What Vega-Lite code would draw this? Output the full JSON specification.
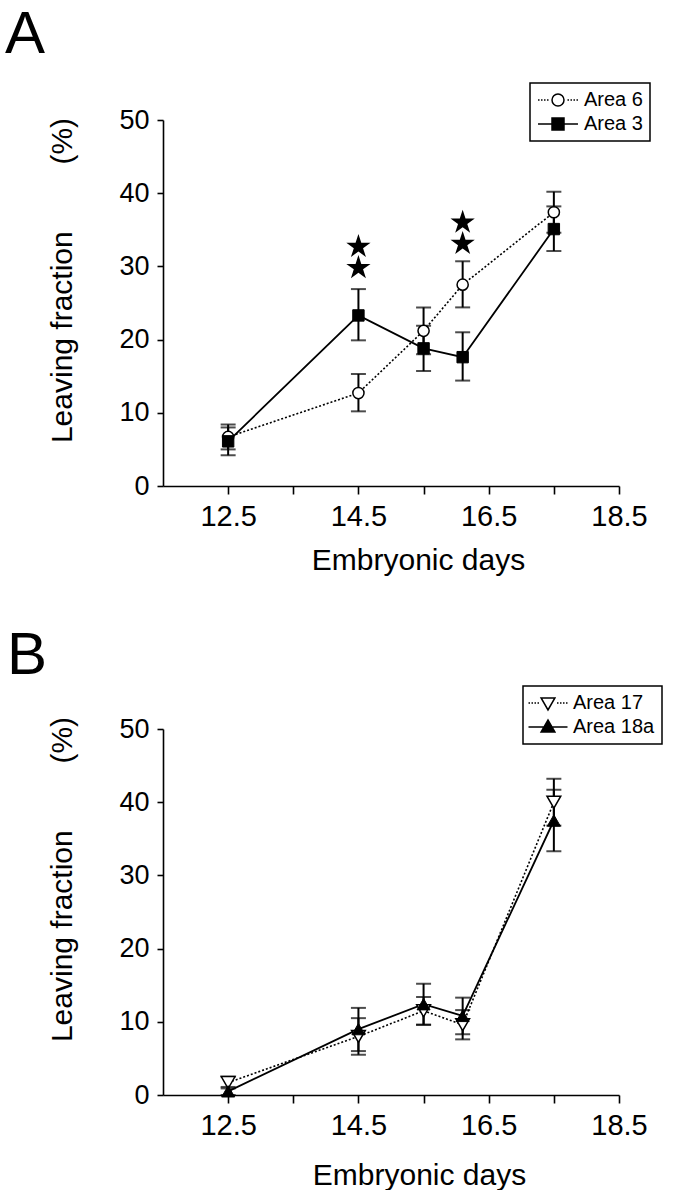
{
  "$schema": "https://vega.github.io/schema/vega-lite/v6.json",
  "background": "white",
  "padding": {"left": 5, "top": 5, "right": 0, "bottom": 0},
  "spacing": 50,
  "resolve": {"scale": {"shape": "independent", "fill": "independent", "stroke": "independent"}, "legend": {"shape": "independent", "fill": "independent", "stroke": "independent"}},
  "config": {
    "font": "Liberation Sans",
    "view": {"stroke": null},
    "axis": {"grid": false, "domainColor": "black", "domainWidth": 1.6, "tickColor": "black", "tickWidth": 1.6, "labelColor": "black", "titleColor": "black", "titleFontWeight": "normal", "labelFont": "Liberation Sans", "titleFont": "Liberation Sans", "labelFlush": false, "labelBound": false, "labelOverlap": false},
    "legend": {"strokeWidth": 1.5},
    "title": {"font": "Liberation Sans", "fontWeight": "normal", "color": "black"}
  },
  "datasets": {
    "A": [
      {"day": 12.5, "series": "Area 6", "mean": 6.7, "lo": 5.0, "hi": 8.4},
      {"day": 14.5, "series": "Area 6", "mean": 12.7, "lo": 10.2, "hi": 15.3},
      {"day": 15.5, "series": "Area 6", "mean": 21.2, "lo": 18.0, "hi": 24.4},
      {"day": 16.1, "series": "Area 6", "mean": 27.5, "lo": 24.4, "hi": 30.7},
      {"day": 17.5, "series": "Area 6", "mean": 37.4, "lo": 34.6, "hi": 40.2},
      {"day": 12.5, "series": "Area 3", "mean": 6.1, "lo": 4.2, "hi": 8.0},
      {"day": 14.5, "series": "Area 3", "mean": 23.3, "lo": 19.9, "hi": 26.9},
      {"day": 15.5, "series": "Area 3", "mean": 18.8, "lo": 15.7, "hi": 21.9},
      {"day": 16.1, "series": "Area 3", "mean": 17.6, "lo": 14.4, "hi": 21.0},
      {"day": 17.5, "series": "Area 3", "mean": 35.1, "lo": 32.1, "hi": 38.2}
    ],
    "starsA": [
      {"day": 14.5, "y": 32.7},
      {"day": 14.5, "y": 29.8},
      {"day": 16.1, "y": 36.0},
      {"day": 16.1, "y": 33.1}
    ],
    "B": [
      {"day": 12.5, "series": "Area 17", "mean": 1.7, "lo": 0.9, "hi": 2.5},
      {"day": 14.5, "series": "Area 17", "mean": 8.0, "lo": 5.5, "hi": 10.5},
      {"day": 15.5, "series": "Area 17", "mean": 11.5, "lo": 9.6, "hi": 13.4},
      {"day": 16.1, "series": "Area 17", "mean": 9.6, "lo": 7.6, "hi": 11.6},
      {"day": 17.5, "series": "Area 17", "mean": 40.0, "lo": 36.8, "hi": 43.2},
      {"day": 12.5, "series": "Area 18a", "mean": 0.5, "lo": 0.0, "hi": 1.1},
      {"day": 14.5, "series": "Area 18a", "mean": 9.0, "lo": 6.0, "hi": 11.9},
      {"day": 15.5, "series": "Area 18a", "mean": 12.4, "lo": 9.6, "hi": 15.2},
      {"day": 16.1, "series": "Area 18a", "mean": 10.8, "lo": 8.3, "hi": 13.3},
      {"day": 17.5, "series": "Area 18a", "mean": 37.5, "lo": 33.3, "hi": 41.7}
    ]
  },
  "vconcat": [
    {
      "width": 456,
      "height": 366,
      "title": {"text": "A", "anchor": "start", "frame": "group", "fontSize": 60, "dx": -158, "offset": -31, "baseline": "alphabetic"},
      "data": {"name": "A"},
      "encoding": {
        "x": {"field": "day", "type": "quantitative", "scale": {"domain": [11.5, 18.5], "nice": false, "zero": false},
          "axis": {"title": "Embryonic days", "values": [12.5, 13.5, 14.5, 15.5, 16.5, 17.5, 18.5],
            "labelExpr": "(datum.value == 12.5 || datum.value == 14.5 || datum.value == 16.5 || datum.value == 18.5) ? format(datum.value, '.1f') : ''",
            "labelFontSize": 29, "tickSize": 8, "labelPadding": 8, "titleFontSize": 30, "titleX": 255, "titleY": 83, "titleBaseline": "alphabetic", "titleAlign": "center"}}
      },
      "layer": [
        {"mark": {"type": "rule", "strokeWidth": 2, "color": "black"},
          "encoding": {
            "y": {"field": "lo", "type": "quantitative", "scale": {"domain": [0, 50], "nice": false},
              "axis": {"title": "Leaving fraction\u00a0\u00a0\u00a0\u00a0\u00a0\u00a0\u00a0\u00a0(%)", "values": [0, 10, 20, 30, 40, 50], "labelFontSize": 27, "tickSize": 6, "labelPadding": 8, "titleFontSize": 30, "titleX": -101, "titleY": 160, "titleBaseline": "middle", "titleAlign": "center", "titleAngle": -90}},
            "y2": {"field": "hi"}
          }},
        {"mark": {"type": "tick", "orient": "horizontal", "size": 15, "thickness": 2, "color": "black"},
          "encoding": {"y": {"field": "lo", "type": "quantitative"}}},
        {"mark": {"type": "tick", "orient": "horizontal", "size": 15, "thickness": 2, "color": "black"},
          "encoding": {"y": {"field": "hi", "type": "quantitative"}}},
        {"transform": [{"filter": "datum.series === 'Area 6'"}],
          "mark": {"type": "line", "color": "black", "strokeWidth": 1.6, "strokeDash": [2, 2]},
          "encoding": {"y": {"field": "mean", "type": "quantitative"}}},
        {"transform": [{"filter": "datum.series === 'Area 3'"}],
          "mark": {"type": "line", "color": "black", "strokeWidth": 1.8},
          "encoding": {"y": {"field": "mean", "type": "quantitative"}}},
        {"transform": [{"filter": "datum.series === 'Area 6'"}],
          "mark": {"type": "point", "shape": "circle", "filled": true, "fill": "white", "stroke": "black", "strokeWidth": 1.5, "opacity": 1, "size": 125},
          "encoding": {"y": {"field": "mean", "type": "quantitative"}}},
        {"transform": [{"filter": "datum.series === 'Area 3'"}],
          "mark": {"type": "point", "shape": "square", "filled": true, "fill": "black", "stroke": "black", "strokeWidth": 1, "opacity": 1, "size": 130},
          "encoding": {"y": {"field": "mean", "type": "quantitative"}}},
        {"data": {"name": "starsA"},
          "mark": {"type": "point", "shape": "M0,-1L0.2245,-0.309L0.9511,-0.309L0.3633,0.118L0.5878,0.809L0,0.382L-0.5878,0.809L-0.3633,0.118L-0.9511,-0.309L-0.2245,-0.309Z", "filled": true, "color": "black", "size": 650, "opacity": 1},
          "encoding": {"y": {"field": "y", "type": "quantitative"}}},
        {"mark": {"type": "point", "filled": true, "stroke": "black", "strokeWidth": 1.5, "opacity": 0},
          "encoding": {
            "y": {"field": "mean", "type": "quantitative"},
            "fill": {"field": "series", "type": "nominal", "scale": {"domain": ["Area 6", "Area 3"], "range": ["white", "black"]},
              "legend": {"orient": "none", "legendX": 367, "legendY": -37, "title": null, "strokeColor": "black", "padding": 7,
                "symbolSize": 144, "symbolOffset": 11, "labelOffset": 16, "labelFontSize": 20, "labelColor": "black", "rowPadding": 4,
                "symbolOpacity": 1, "symbolStrokeColor": "black", "symbolStrokeWidth": 1.5,
                "labelExpr": "datum.label + '\u00a0\u00a0'"}},
            "stroke": {"field": "series", "type": "nominal", "scale": {"domain": ["Area 6", "Area 3"], "range": ["black", "black"]},
              "legend": {"orient": "none", "legendX": 367, "legendY": -37, "title": null, "strokeColor": "black", "padding": 7,
                "symbolSize": 144, "symbolOffset": 11, "labelOffset": 16, "labelFontSize": 20, "labelColor": "black", "rowPadding": 4,
                "symbolOpacity": 1, "symbolStrokeColor": "black", "symbolStrokeWidth": 1.5,
                "labelExpr": "datum.label + '\u00a0\u00a0'"}},
            "shape": {"field": "series", "type": "nominal", "scale": {"domain": ["Area 6", "Area 3"], "range": [
                "M-3.33,0h0.25M-2.83,0h0.25M-2.33,0h0.25M-1.83,0h0.25M1.58,0h0.25M2.08,0h0.25M2.58,0h0.25M3.08,0h0.25M1,0A1,1,0,1,1,-1,0A1,1,0,1,1,1,0Z",
                "M-3.33,0H3.33M-1,-1H1V1H-1Z"]},
              "legend": {"orient": "none", "legendX": 367, "legendY": -37, "title": null, "strokeColor": "black", "padding": 7,
                "symbolSize": 144, "symbolOffset": 11, "labelOffset": 16, "labelFontSize": 20, "labelColor": "black", "rowPadding": 4,
                "symbolOpacity": 1, "symbolStrokeColor": "black", "symbolStrokeWidth": 1.5,
                "labelExpr": "datum.label + '\u00a0\u00a0'"}}
          }}
      ]
    },
    {
      "width": 456,
      "height": 366,
      "title": {"text": "B", "anchor": "start", "frame": "group", "fontSize": 60, "dx": -156, "offset": -48.5, "baseline": "alphabetic"},
      "data": {"name": "B"},
      "encoding": {
        "x": {"field": "day", "type": "quantitative", "scale": {"domain": [11.5, 18.5], "nice": false, "zero": false},
          "axis": {"title": "Embryonic days", "values": [12.5, 13.5, 14.5, 15.5, 16.5, 17.5, 18.5],
            "labelExpr": "(datum.value == 12.5 || datum.value == 14.5 || datum.value == 16.5 || datum.value == 18.5) ? format(datum.value, '.1f') : ''",
            "labelFontSize": 29, "tickSize": 8, "labelPadding": 8, "titleFontSize": 30, "titleX": 256, "titleY": 89, "titleBaseline": "alphabetic", "titleAlign": "center"}}
      },
      "layer": [
        {"mark": {"type": "rule", "strokeWidth": 2, "color": "black"},
          "encoding": {
            "y": {"field": "lo", "type": "quantitative", "scale": {"domain": [0, 50], "nice": false},
              "axis": {"title": "Leaving fraction\u00a0\u00a0\u00a0\u00a0\u00a0\u00a0\u00a0\u00a0(%)", "values": [0, 10, 20, 30, 40, 50], "labelFontSize": 27, "tickSize": 6, "labelPadding": 8, "titleFontSize": 30, "titleX": -101, "titleY": 150, "titleBaseline": "middle", "titleAlign": "center", "titleAngle": -90}},
            "y2": {"field": "hi"}
          }},
        {"mark": {"type": "tick", "orient": "horizontal", "size": 15, "thickness": 2, "color": "black"},
          "encoding": {"y": {"field": "lo", "type": "quantitative"}}},
        {"mark": {"type": "tick", "orient": "horizontal", "size": 15, "thickness": 2, "color": "black"},
          "encoding": {"y": {"field": "hi", "type": "quantitative"}}},
        {"transform": [{"filter": "datum.series === 'Area 17'"}],
          "mark": {"type": "line", "color": "black", "strokeWidth": 1.6, "strokeDash": [2, 2]},
          "encoding": {"y": {"field": "mean", "type": "quantitative"}}},
        {"transform": [{"filter": "datum.series === 'Area 18a'"}],
          "mark": {"type": "line", "color": "black", "strokeWidth": 1.8},
          "encoding": {"y": {"field": "mean", "type": "quantitative"}}},
        {"transform": [{"filter": "datum.series === 'Area 17'"}],
          "mark": {"type": "point", "shape": "triangle-down", "filled": true, "fill": "white", "stroke": "black", "strokeWidth": 1.5, "opacity": 1, "size": 190},
          "encoding": {"y": {"field": "mean", "type": "quantitative"}}},
        {"transform": [{"filter": "datum.series === 'Area 18a'"}],
          "mark": {"type": "point", "shape": "triangle-up", "filled": true, "fill": "black", "stroke": "black", "strokeWidth": 1, "opacity": 1, "size": 170},
          "encoding": {"y": {"field": "mean", "type": "quantitative"}}},
        {"mark": {"type": "point", "filled": true, "stroke": "black", "strokeWidth": 1.5, "opacity": 0},
          "encoding": {
            "y": {"field": "mean", "type": "quantitative"},
            "fill": {"field": "series", "type": "nominal", "scale": {"domain": ["Area 17", "Area 18a"], "range": ["white", "black"]},
              "legend": {"orient": "none", "legendX": 360, "legendY": -43, "title": null, "strokeColor": "black", "padding": 7,
                "symbolSize": 144, "symbolOffset": 8, "labelOffset": 15, "labelFontSize": 20, "labelColor": "black", "rowPadding": 4,
                "symbolOpacity": 1, "symbolStrokeColor": "black", "symbolStrokeWidth": 1.5,
                "labelExpr": "datum.label + '\u00a0'"}},
            "stroke": {"field": "series", "type": "nominal", "scale": {"domain": ["Area 17", "Area 18a"], "range": ["black", "black"]},
              "legend": {"orient": "none", "legendX": 360, "legendY": -43, "title": null, "strokeColor": "black", "padding": 7,
                "symbolSize": 144, "symbolOffset": 8, "labelOffset": 15, "labelFontSize": 20, "labelColor": "black", "rowPadding": 4,
                "symbolOpacity": 1, "symbolStrokeColor": "black", "symbolStrokeWidth": 1.5,
                "labelExpr": "datum.label + '\u00a0'"}},
            "shape": {"field": "series", "type": "nominal", "scale": {"domain": ["Area 17", "Area 18a"], "range": [
                "M-3.25,0h0.25M-2.75,0h0.25M-2.25,0h0.25M-1.75,0h0.25M1.5,0h0.25M2,0h0.25M2.5,0h0.25M3,0h0.25M-1.15,-0.85H1.15L0,1.15Z",
                "M-3.25,0H3.25M-1.15,0.85H1.15L0,-1.15Z"]},
              "legend": {"orient": "none", "legendX": 360, "legendY": -43, "title": null, "strokeColor": "black", "padding": 7,
                "symbolSize": 144, "symbolOffset": 8, "labelOffset": 15, "labelFontSize": 20, "labelColor": "black", "rowPadding": 4,
                "symbolOpacity": 1, "symbolStrokeColor": "black", "symbolStrokeWidth": 1.5,
                "labelExpr": "datum.label + '\u00a0'"}}
          }}
      ]
    }
  ]
}
